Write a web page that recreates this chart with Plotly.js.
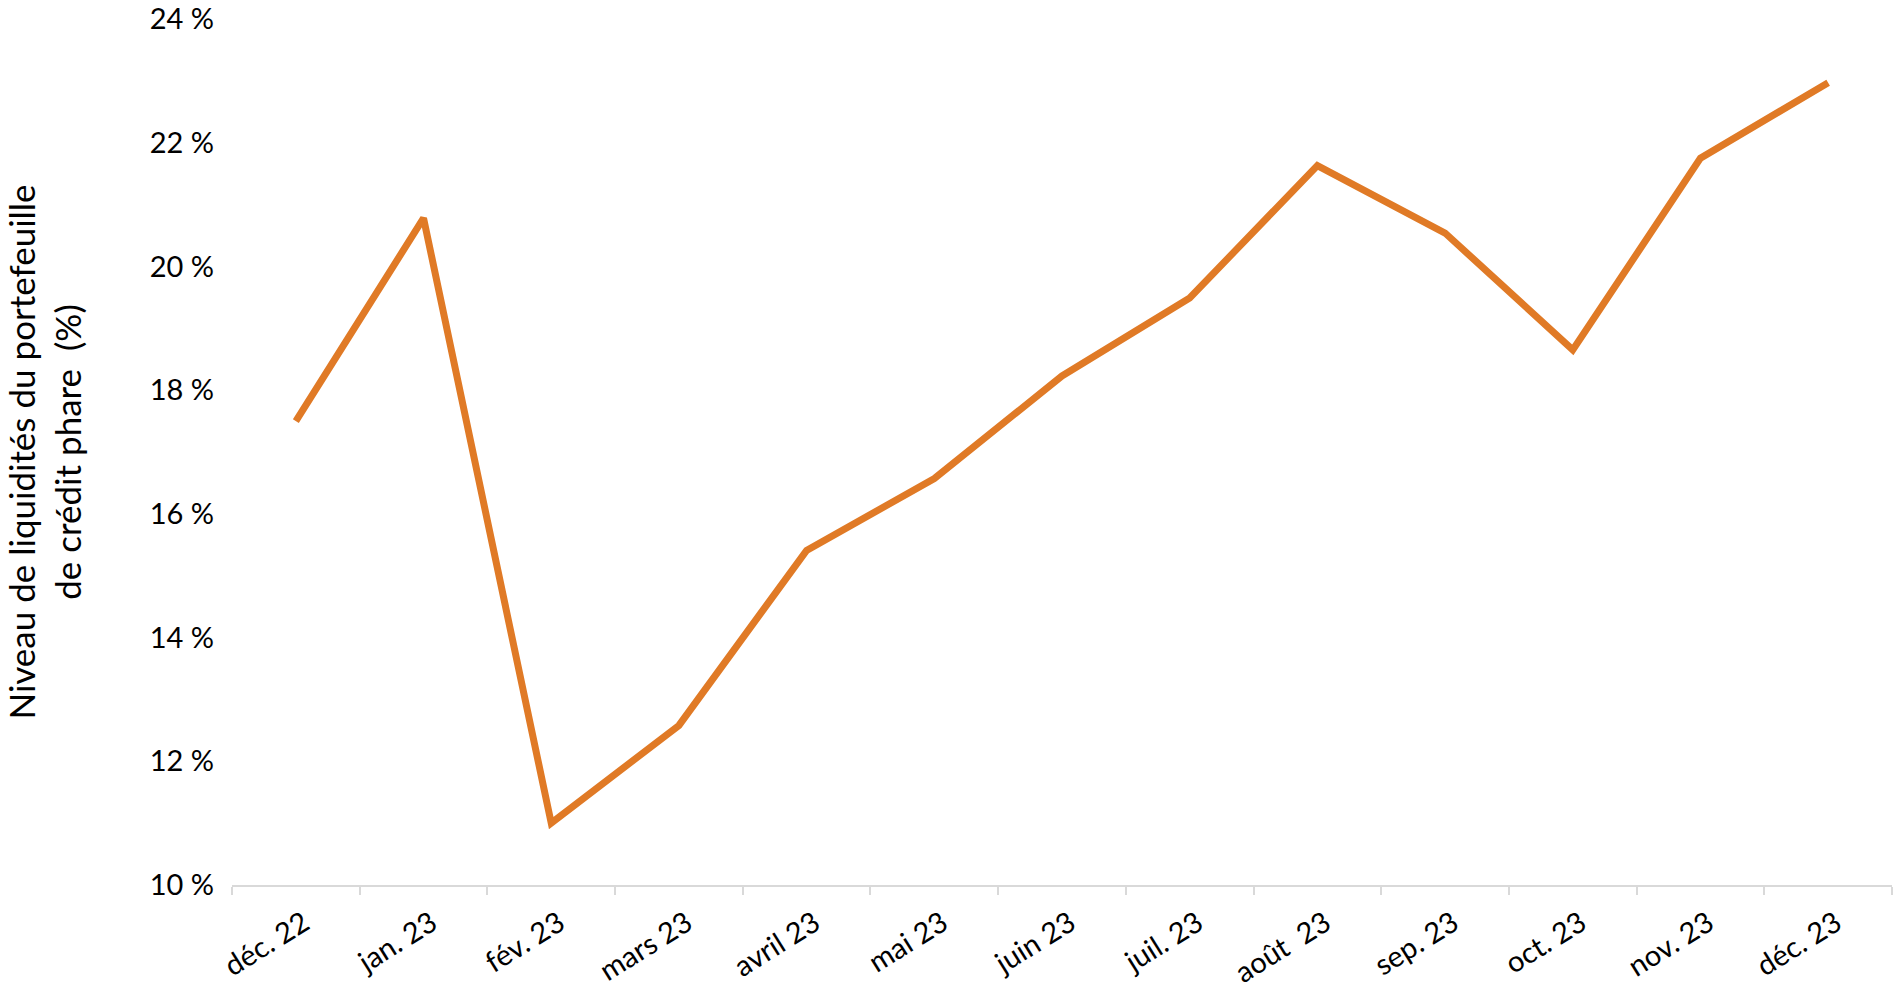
<!DOCTYPE html>
<html>
<head>
<meta charset="utf-8">
<script src="https://cdn.plot.ly/plotly-3.0.1.min.js"></script>
<style>
  html, body { margin: 0; padding: 0; background: #fff; }
  #chart { width: 1896px; height: 998px; }
</style>
</head>
<body>
<div id="chart"></div>
<script>
// Mois (catégories de l'axe x)
var months = ["déc. 22", "jan. 23", "fév. 23", "mars 23", "avril 23", "mai 23", "juin 23",
              "juil. 23", "août\u00a0 23", "sep. 23", "oct. 23", "nov. 23", "déc. 23"];

// Niveau de liquidités (%)
var liquidity = [17.5, 20.78, 11.0, 12.58, 15.41, 16.57, 18.23, 19.49, 21.63, 20.54, 18.65, 21.75, 22.97];

// Graduations de l'axe y
var yTicks = [10, 12, 14, 16, 18, 20, 22, 24];
var yTickText = yTicks.map(function (v) { return v + " %"; });

var trace = {
  type: "scatter",
  mode: "lines",
  x: months,
  y: liquidity,
  line: { color: "#E07A26", width: 7 },
  hoverinfo: "x+y"
};

var layout = {
  width: 1896,
  height: 998,
  margin: { l: 232, r: 4, t: 19, b: 113 },
  paper_bgcolor: "#fff",
  plot_bgcolor: "#fff",
  font: { family: "Lato, 'Open Sans', sans-serif", color: "#000", size: 28 },
  showlegend: false,
  xaxis: {
    type: "category",
    range: [-0.5, 12.5],
    showgrid: false,
    zeroline: false,
    showline: true,
    linecolor: "#d9d9d9",
    linewidth: 2,
    ticks: "outside",
    tickson: "boundaries",
    ticklen: 8,
    tickwidth: 2,
    tickcolor: "#d9d9d9",
    tickangle: -32,
    ticklabelstandoff: 8,
    ticklabelshift: 8,
    tickfont: { size: 29 },
    automargin: false
  },
  yaxis: {
    range: [10, 24],
    tickmode: "array",
    tickvals: yTicks,
    ticktext: yTickText,
    ticklabeloverflow: "allow",
    showgrid: false,
    zeroline: false,
    showline: false,
    ticks: "",
    ticklabelstandoff: 17,
    tickfont: { size: 29 },
    automargin: "left",
    title: {
      text: "Niveau de liquidités du portefeuille<br>de crédit phare\u00a0 (%)",
      font: { size: 35 },
      standoff: 76
    }
  }
};

Plotly.newPlot("chart", [trace], layout, { displayModeBar: false, staticPlot: true });
</script>
</body>
</html>
